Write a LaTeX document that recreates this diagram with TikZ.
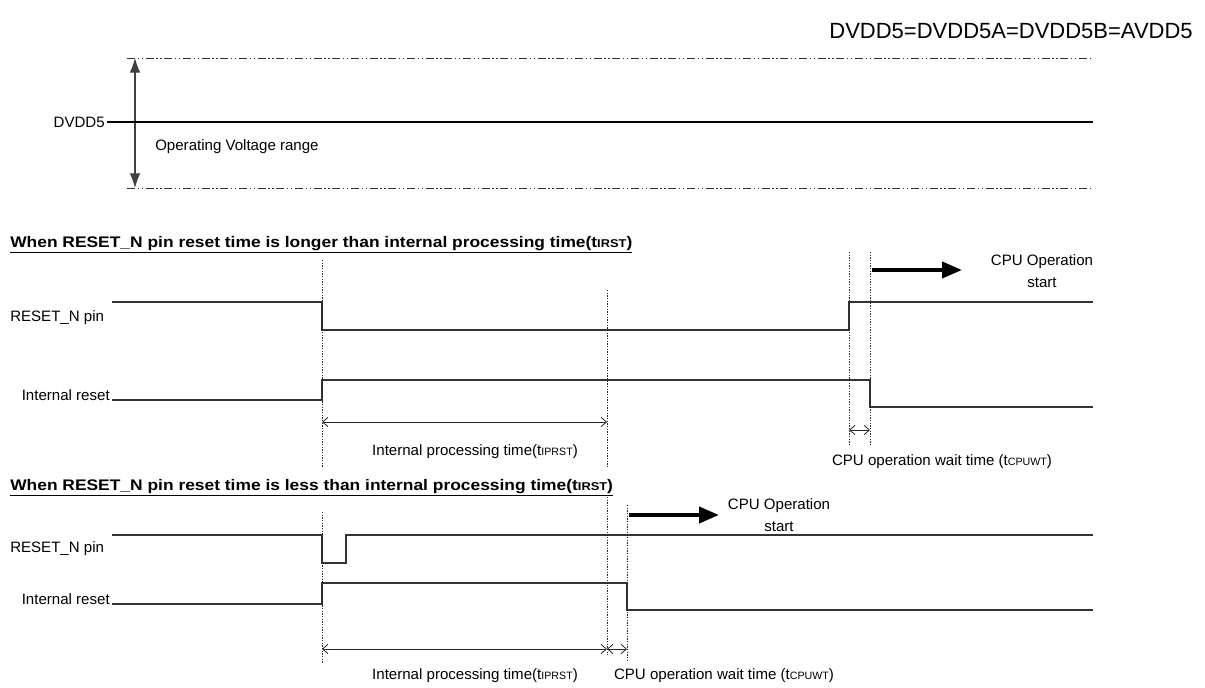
\documentclass[tikz,border=0pt]{standalone}
\usepackage{fontspec}
\setmainfont{Liberation Sans}
\usetikzlibrary{arrows.meta}
\newcommand{\subsm}[1]{{\fontsize{8}{9}\selectfont #1}}
\newcommand{\subhd}[1]{{\fontsize{8.5}{9}\selectfont #1}}
\begin{document}
\begin{tikzpicture}[x=0.75pt,y=-0.75pt,
  wave/.style={line width=0.9pt, draw=black!80},
  guide/.style={line width=0.6pt, dash pattern=on 1pt off 1pt, draw=black!85},
  dimarrow/.style={line width=0.6pt, draw=black!85, {Straight Barb[length=4pt,width=7pt]}-{Straight Barb[length=4pt,width=7pt]}},
  bigarrow/.style={line width=3pt, -{Triangle[length=15pt,width=12pt]}},
  lbl/.style={font=\fontsize{11.3}{13}\selectfont, inner sep=0pt},
  head/.style={font=\bfseries\fontsize{11.5}{13}\selectfont, inner sep=0pt, anchor=base west},
  dashdot/.style={line width=0.7pt, draw=black!80, dash pattern=on 6pt off 2pt on 1pt off 2pt on 1pt off 2pt}]
\useasboundingbox (0,0) rectangle (1205,688);

% ---------- top part ----------
\node[anchor=base east, inner sep=0pt, font=\fontsize{16.5}{18}\selectfont] (title) at (1193,39) {DVDD5=DVDD5A=DVDD5B=AVDD5};

\coordinate (topL) at (127,58);   \coordinate (topR) at (1093,58);
\coordinate (botL) at (127,188);  \coordinate (botR) at (1093,188);
\draw[dashdot] (topL) -- (topR);
\draw[dashdot] (botL) -- (botR);
\coordinate (vT) at (135,58); \coordinate (vB) at (135,188);
\draw[line width=0.9pt, draw=black!75, {Latex[length=11pt,width=8pt]}-{Latex[length=11pt,width=8pt]}] (vT) -- (vB);

\node[lbl, anchor=east] (dvdd) at (105,122) {DVDD5};
\coordinate (dvddR) at (1093,122);
\draw[line width=0.9pt] (dvdd.east) ++(2,0) -- (dvddR);
\node[lbl, anchor=west] (opv) at (155,147) {Operating Voltage range};

% ---------- section 1 ----------
\node[head] (h1) at (10,247) {\scalebox{1.135}[1]{\underline{When RESET\_N pin reset time is longer than internal processing time(t\subhd{IRST})}}};

\node[lbl, anchor=west] (r1lbl) at (10,318) {RESET\_N pin};
\node[lbl, anchor=east] (i1lbl) at (110,395) {Internal reset};

\draw[wave] (112,302) -- (322,302) -- (322,330) -- (849,330) -- (849,302) -- (1093,302);
\draw[wave] (i1lbl.east |- 0,400) ++(2,0) -- (322,400) -- (322,380) -- (870,380) -- (870,407) -- (1093,407);

\coordinate (g1a) at (322,260); \coordinate (g1b) at (322,468);
\coordinate (g2a) at (607,290); \coordinate (g2b) at (607,468);
\coordinate (g3a) at (849,252); \coordinate (g3b) at (849,445);
\coordinate (g4a) at (870,252); \coordinate (g4b) at (870,445);
\draw[guide] (g1a) -- (g1b);
\draw[guide] (g2a) -- (g2b);
\draw[guide] (g3a) -- (g3b);
\draw[guide] (g4a) -- (g4b);

\coordinate (a1s) at (872,270); \coordinate (a1e) at (962,270);
\draw[bigarrow] (a1s) -- (a1e);
\node[lbl, align=center] (cpu1) at (1042,271) {CPU Operation\\[3pt]start};

\coordinate (d1a) at (322,422); \coordinate (d1b) at (607,422);
\draw[dimarrow] (d1a) -- (d1b);
\node[lbl] (ipt1) at (475,452) {Internal processing time(t\subsm{IPRST})};
\coordinate (d2a) at (849,430); \coordinate (d2b) at (870,430);
\draw[dimarrow] (d2a) -- (d2b);
\node[lbl] (cw1) at (942,462) {CPU operation wait time (t\subsm{CPUWT})};

% ---------- section 2 ----------
\node[head] (h2) at (10,490) {\scalebox{1.135}[1]{\underline{When RESET\_N pin reset time is less than internal processing time(t\subhd{IRST})}}};

\node[lbl, anchor=west] (r2lbl) at (10,549) {RESET\_N pin};
\node[lbl, anchor=east] (i2lbl) at (110,599) {Internal reset};

\draw[wave] (112,535) -- (322,535) -- (322,563) -- (346,563) -- (346,535) -- (1093,535);
\draw[wave] (i2lbl.east |- 0,604) ++(2,0) -- (322,604) -- (322,583) -- (627,583) -- (627,610) -- (1093,610);

\coordinate (k1a) at (322,512); \coordinate (k1b) at (322,663);
\coordinate (k2a) at (607,497); \coordinate (k2b) at (607,655);
\coordinate (k3a) at (627,505); \coordinate (k3b) at (627,662);
\draw[guide] (k1a) -- (k1b);
\draw[guide] (k2a) -- (k2b);
\draw[guide] (k3a) -- (k3b);

\coordinate (a2s) at (629,515); \coordinate (a2e) at (719,515);
\draw[bigarrow] (a2s) -- (a2e);
\node[lbl, align=center] (cpu2) at (779,515) {CPU Operation\\[3pt]start};

\coordinate (e1a) at (322,649); \coordinate (e1b) at (607,649);
\coordinate (e2a) at (607,649); \coordinate (e2b) at (627,649);
\draw[dimarrow] (e1a) -- (e1b);
\draw[dimarrow] (e2a) -- (e2b);
\node[lbl] (ipt2) at (475,676) {Internal processing time(t\subsm{IPRST})};
\node[lbl] (cw2) at (724,676) {CPU operation wait time (t\subsm{CPUWT})};
\end{tikzpicture}
\end{document}
